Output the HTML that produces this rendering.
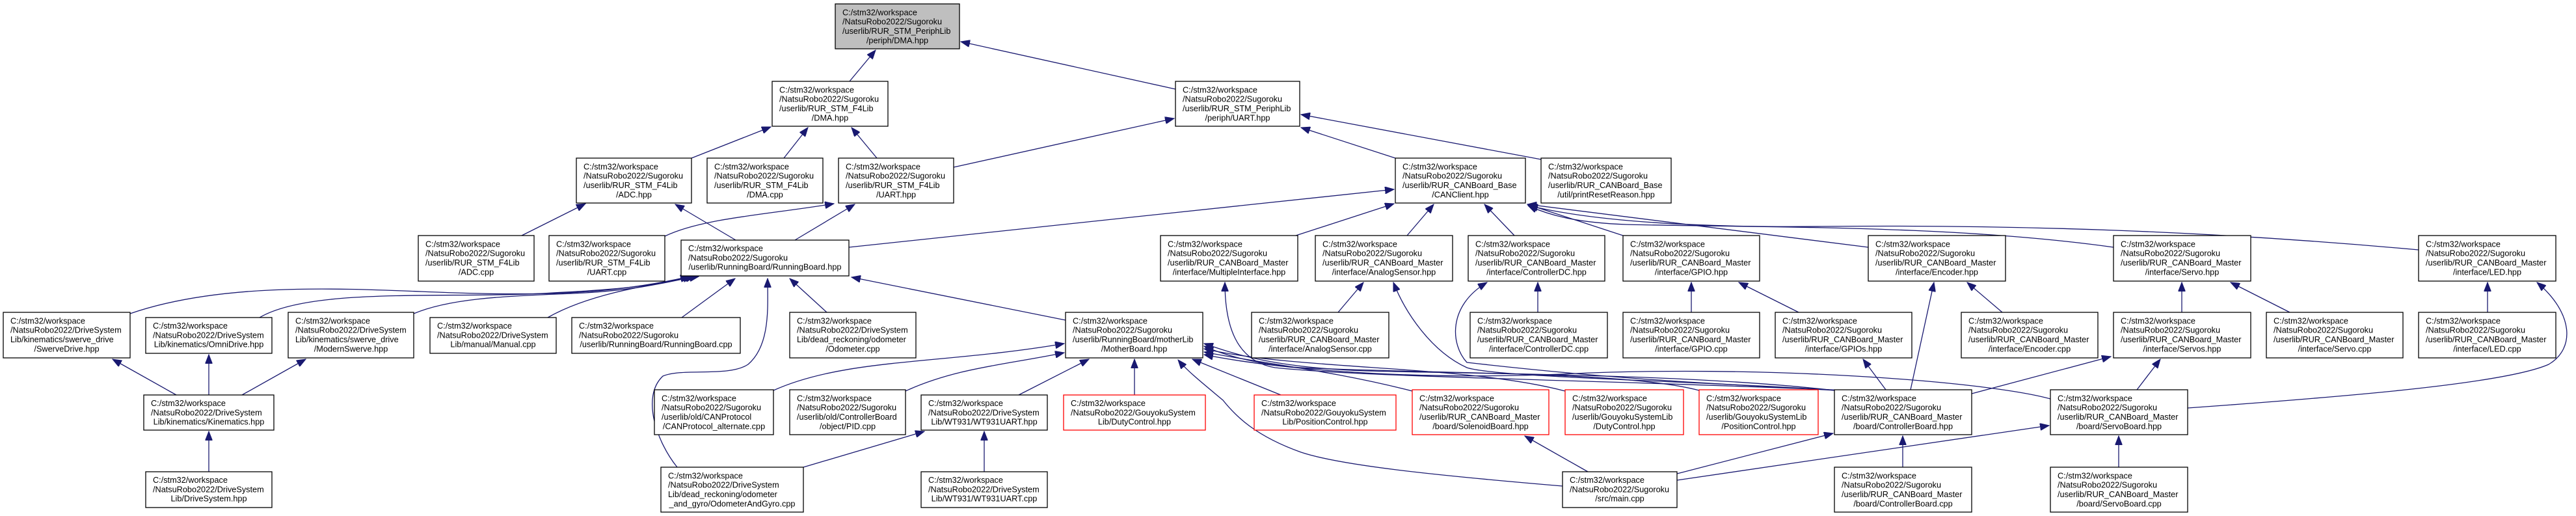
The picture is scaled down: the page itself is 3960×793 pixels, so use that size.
<!DOCTYPE html>
<html><head><meta charset="utf-8"><style>
html,body{margin:0;padding:0;background:#fff;}
svg{display:block;}
text{font-family:"Liberation Sans",Arial,sans-serif;font-size:12.7px;fill:#000;}
.b{fill:#fff;stroke:#000;stroke-width:1.3;}
.r{fill:#fff;stroke:#ff0000;stroke-width:1.3;}
.g{fill:#bfbfbf;stroke:#000;stroke-width:1.3;}
.e{fill:none;stroke:#191970;stroke-width:1.3;marker-end:url(#a);}
</style></head><body>
<svg width="3960" height="793" viewBox="0 0 3960 793" xmlns="http://www.w3.org/2000/svg">
<defs><marker id="a" markerUnits="userSpaceOnUse" markerWidth="15" markerHeight="11" refX="14" refY="5.5" orient="auto"><path d="M0,0 L14,5.5 L0,11 z" fill="#191970" stroke="#191970"/></marker></defs>

<!-- edges -->
<path class="e" d="M1306,125 L1346,77"/>
<path class="e" d="M1807,137 L1477,64"/>
<path class="e" d="M1063,243 L1185,195"/>
<path class="e" d="M1205,243 L1242,196"/>
<path class="e" d="M1348,243 L1309,196"/>
<path class="e" d="M1466,257 L1805,182"/>
<path class="e" d="M802,362 L900,313"/>
<path class="e" d="M1131,369 L1038,314"/>
<path class="e" d="M1022,363 C1080,335 1180,330 1282,313"/>
<path class="e" d="M1222,369 L1314,314"/>
<path class="e" d="M2145,243 L2000,196"/>
<path class="e" d="M2369,245 L2000,176"/>
<path class="e" d="M1305,380 L2143,291"/>
<path class="e" d="M1992,362 L2143,313"/>
<path class="e" d="M2163,362 L2204,314"/>
<path class="e" d="M2328,362 L2282,314"/>
<path class="e" d="M2495,362 L2348,314"/>
<path class="e" d="M2872,380 L2348,314"/>
<path class="e" d="M3249,380 C3000,345 2700,350 2500,345 C2420,342 2380,330 2349,316"/>
<path class="e" d="M3718,384 C3400,355 3100,345 2800,348 C2600,350 2450,340 2350,316"/>
<!-- to RunningBoard.hpp -->
<path class="e" d="M200,482 C350,430 550,445 700,450 C850,455 950,450 1060,425"/>
<path class="e" d="M399,488 C480,440 700,460 850,450 C950,445 1000,440 1064,425"/>
<path class="e" d="M636,482 C700,455 800,455 900,450 C980,445 1020,435 1068,425"/>
<path class="e" d="M842,488 C900,455 980,440 1074,425"/>
<path class="e" d="M1048,488 L1130,428"/>
<path class="e" d="M1271,480 L1214,428"/>
<path class="e" d="M1638,492 L1309,426"/>
<path class="e" d="M1041,718 C1010,680 985,610 1019,578 C1050,565 1120,580 1150,560 C1185,530 1180,470 1180,428"/>
<!-- kinematics -->
<path class="e" d="M271,607 L173,552"/>
<path class="e" d="M321,607 L321,545"/>
<path class="e" d="M372,607 L470,552"/>
<path class="e" d="M321,725 L321,663"/>
<!-- to MotherBoard -->
<path class="e" d="M1189,600 C1300,550 1450,560 1636,528"/>
<path class="e" d="M1392,601 C1470,565 1550,560 1636,542"/>
<path class="e" d="M1566,607 L1674,552"/>
<path class="e" d="M1744,607 L1744,552"/>
<path class="e" d="M1969,607 L1833,552"/>
<path class="e" d="M2171,601 C2050,570 1950,560 1851,541"/>
<path class="e" d="M2406,601 C2250,560 2000,570 1851,536"/>
<path class="e" d="M2612,600 C2500,570 2200,575 2000,565 C1930,560 1880,545 1851,532"/>
<path class="e" d="M2820,600 C2600,575 2300,575 2100,570 C1960,565 1900,545 1851,528"/>
<path class="e" d="M3152,613 C3050,585 2700,560 2400,575 C2150,585 1950,565 1851,545"/>
<path class="e" d="M2402,747 C2200,730 2060,715 2000,695 C1930,670 1900,640 1880,615 C1850,590 1825,570 1811,553"/>
<path class="e" d="M1235,718 L1421,663"/>
<path class="e" d="M1513,725 L1513,663"/>
<!-- ControllerBoard.hpp deps -->
<path class="e" d="M2836,600 C2500,585 2100,580 1960,565 C1900,555 1883,500 1883,434"/>
<path class="e" d="M2826,600 C2600,585 2300,580 2255,565 C2200,540 2160,480 2142,434"/>
<path class="e" d="M2822,600 C2650,590 2500,585 2255,557 C2230,530 2225,470 2286,434"/>
<path class="e" d="M2364,480 L2364,434"/>
<path class="e" d="M2057,480 L2096,434"/>
<path class="e" d="M2600,480 L2600,434"/>
<path class="e" d="M2765,480 L2673,434"/>
<path class="e" d="M2899,599 L2864,552"/>
<path class="e" d="M2937,599 L2973,434"/>
<path class="e" d="M3078,480 L3024,434"/>
<path class="e" d="M3354,480 L3354,434"/>
<path class="e" d="M3520,480 L3429,434"/>
<path class="e" d="M3824,480 L3824,434"/>
<path class="e" d="M3363,627 C3600,610 3850,590 3918,560 C3960,535 3955,480 3900,434"/>
<path class="e" d="M3285,599 L3321,552"/>
<path class="e" d="M3031,605 L3245,548"/>
<path class="e" d="M2925,718 L2925,670"/>
<path class="e" d="M3257,718 L3257,670"/>
<path class="e" d="M2441,725 L2344,670"/>
<path class="e" d="M2578,728 L2818,666"/>
<path class="e" d="M2578,738 L3150,654"/>

<!-- nodes -->
<g>
<rect class="g" x="1284" y="6" width="191" height="69"/>
<text y="23.4"><tspan x="1295">C:/stm32/workspace</tspan><tspan x="1295" dy="14.3">/NatsuRobo2022/Sugoroku</tspan><tspan x="1295" dy="14.3">/userlib/RUR_STM_PeriphLib</tspan><tspan x="1379.5" dy="14.3" text-anchor="middle">/periph/DMA.hpp</tspan></text>

<rect class="b" x="1187" y="125" width="178" height="69"/>
<text y="142.4"><tspan x="1198">C:/stm32/workspace</tspan><tspan x="1198" dy="14.3">/NatsuRobo2022/Sugoroku</tspan><tspan x="1198" dy="14.3">/userlib/RUR_STM_F4Lib</tspan><tspan x="1276" dy="14.3" text-anchor="middle">/DMA.hpp</tspan></text>

<rect class="b" x="1807" y="125" width="191" height="69"/>
<text y="142.4"><tspan x="1818">C:/stm32/workspace</tspan><tspan x="1818" dy="14.3">/NatsuRobo2022/Sugoroku</tspan><tspan x="1818" dy="14.3">/userlib/RUR_STM_PeriphLib</tspan><tspan x="1902.5" dy="14.3" text-anchor="middle">/periph/UART.hpp</tspan></text>

<rect class="b" x="886" y="243" width="177" height="69"/>
<text y="260.4"><tspan x="897">C:/stm32/workspace</tspan><tspan x="897" dy="14.3">/NatsuRobo2022/Sugoroku</tspan><tspan x="897" dy="14.3">/userlib/RUR_STM_F4Lib</tspan><tspan x="974.5" dy="14.3" text-anchor="middle">/ADC.hpp</tspan></text>

<rect class="b" x="1087" y="243" width="178" height="69"/>
<text y="260.4"><tspan x="1098">C:/stm32/workspace</tspan><tspan x="1098" dy="14.3">/NatsuRobo2022/Sugoroku</tspan><tspan x="1098" dy="14.3">/userlib/RUR_STM_F4Lib</tspan><tspan x="1176" dy="14.3" text-anchor="middle">/DMA.cpp</tspan></text>

<rect class="b" x="1289" y="243" width="177" height="69"/>
<text y="260.4"><tspan x="1300">C:/stm32/workspace</tspan><tspan x="1300" dy="14.3">/NatsuRobo2022/Sugoroku</tspan><tspan x="1300" dy="14.3">/userlib/RUR_STM_F4Lib</tspan><tspan x="1377.5" dy="14.3" text-anchor="middle">/UART.hpp</tspan></text>

<rect class="b" x="2145" y="243" width="200" height="69"/>
<text y="260.4"><tspan x="2156">C:/stm32/workspace</tspan><tspan x="2156" dy="14.3">/NatsuRobo2022/Sugoroku</tspan><tspan x="2156" dy="14.3">/userlib/RUR_CANBoard_Base</tspan><tspan x="2245" dy="14.3" text-anchor="middle">/CANClient.hpp</tspan></text>

<rect class="b" x="2369" y="243" width="200" height="69"/>
<text y="260.4"><tspan x="2380">C:/stm32/workspace</tspan><tspan x="2380" dy="14.3">/NatsuRobo2022/Sugoroku</tspan><tspan x="2380" dy="14.3">/userlib/RUR_CANBoard_Base</tspan><tspan x="2469" dy="14.3" text-anchor="middle">/util/printResetReason.hpp</tspan></text>

<rect class="b" x="643" y="362" width="178" height="70"/>
<text y="379.4"><tspan x="654">C:/stm32/workspace</tspan><tspan x="654" dy="14.3">/NatsuRobo2022/Sugoroku</tspan><tspan x="654" dy="14.3">/userlib/RUR_STM_F4Lib</tspan><tspan x="732" dy="14.3" text-anchor="middle">/ADC.cpp</tspan></text>

<rect class="b" x="844" y="362" width="178" height="70"/>
<text y="379.4"><tspan x="855">C:/stm32/workspace</tspan><tspan x="855" dy="14.3">/NatsuRobo2022/Sugoroku</tspan><tspan x="855" dy="14.3">/userlib/RUR_STM_F4Lib</tspan><tspan x="933" dy="14.3" text-anchor="middle">/UART.cpp</tspan></text>

<rect class="b" x="1047" y="369" width="258" height="55"/>
<text y="386"><tspan x="1058">C:/stm32/workspace</tspan><tspan x="1058" dy="14.3">/NatsuRobo2022/Sugoroku</tspan><tspan x="1176" dy="14.3" text-anchor="middle">/userlib/RunningBoard/RunningBoard.hpp</tspan></text>

<rect class="b" x="1784" y="362" width="211" height="70"/>
<text y="379.4"><tspan x="1795">C:/stm32/workspace</tspan><tspan x="1795" dy="14.3">/NatsuRobo2022/Sugoroku</tspan><tspan x="1795" dy="14.3">/userlib/RUR_CANBoard_Master</tspan><tspan x="1889.5" dy="14.3" text-anchor="middle">/interface/MultipleInterface.hpp</tspan></text>

<rect class="b" x="2022" y="362" width="211" height="70"/>
<text y="379.4"><tspan x="2033">C:/stm32/workspace</tspan><tspan x="2033" dy="14.3">/NatsuRobo2022/Sugoroku</tspan><tspan x="2033" dy="14.3">/userlib/RUR_CANBoard_Master</tspan><tspan x="2127.5" dy="14.3" text-anchor="middle">/interface/AnalogSensor.hpp</tspan></text>

<rect class="b" x="2257" y="362" width="210" height="70"/>
<text y="379.4"><tspan x="2268">C:/stm32/workspace</tspan><tspan x="2268" dy="14.3">/NatsuRobo2022/Sugoroku</tspan><tspan x="2268" dy="14.3">/userlib/RUR_CANBoard_Master</tspan><tspan x="2362" dy="14.3" text-anchor="middle">/interface/ControllerDC.hpp</tspan></text>

<rect class="b" x="2495" y="362" width="210" height="70"/>
<text y="379.4"><tspan x="2506">C:/stm32/workspace</tspan><tspan x="2506" dy="14.3">/NatsuRobo2022/Sugoroku</tspan><tspan x="2506" dy="14.3">/userlib/RUR_CANBoard_Master</tspan><tspan x="2600" dy="14.3" text-anchor="middle">/interface/GPIO.hpp</tspan></text>

<rect class="b" x="2872" y="362" width="211" height="70"/>
<text y="379.4"><tspan x="2883">C:/stm32/workspace</tspan><tspan x="2883" dy="14.3">/NatsuRobo2022/Sugoroku</tspan><tspan x="2883" dy="14.3">/userlib/RUR_CANBoard_Master</tspan><tspan x="2977.5" dy="14.3" text-anchor="middle">/interface/Encoder.hpp</tspan></text>

<rect class="b" x="3249" y="362" width="211" height="70"/>
<text y="379.4"><tspan x="3260">C:/stm32/workspace</tspan><tspan x="3260" dy="14.3">/NatsuRobo2022/Sugoroku</tspan><tspan x="3260" dy="14.3">/userlib/RUR_CANBoard_Master</tspan><tspan x="3354.5" dy="14.3" text-anchor="middle">/interface/Servo.hpp</tspan></text>

<rect class="b" x="3718" y="362" width="211" height="70"/>
<text y="379.4"><tspan x="3729">C:/stm32/workspace</tspan><tspan x="3729" dy="14.3">/NatsuRobo2022/Sugoroku</tspan><tspan x="3729" dy="14.3">/userlib/RUR_CANBoard_Master</tspan><tspan x="3823.5" dy="14.3" text-anchor="middle">/interface/LED.hpp</tspan></text>

<!-- row 4 -->
<rect class="b" x="5" y="480" width="195" height="70"/>
<text y="497.4"><tspan x="16">C:/stm32/workspace</tspan><tspan x="16" dy="14.3">/NatsuRobo2022/DriveSystem</tspan><tspan x="16" dy="14.3">Lib/kinematics/swerve_drive</tspan><tspan x="102.5" dy="14.3" text-anchor="middle">/SwerveDrive.hpp</tspan></text>

<rect class="b" x="224" y="488" width="194" height="55"/>
<text y="505"><tspan x="235">C:/stm32/workspace</tspan><tspan x="235" dy="14.3">/NatsuRobo2022/DriveSystem</tspan><tspan x="321" dy="14.3" text-anchor="middle">Lib/kinematics/OmniDrive.hpp</tspan></text>

<rect class="b" x="443" y="480" width="193" height="70"/>
<text y="497.4"><tspan x="454">C:/stm32/workspace</tspan><tspan x="454" dy="14.3">/NatsuRobo2022/DriveSystem</tspan><tspan x="454" dy="14.3">Lib/kinematics/swerve_drive</tspan><tspan x="539.5" dy="14.3" text-anchor="middle">/ModernSwerve.hpp</tspan></text>

<rect class="b" x="661" y="488" width="194" height="55"/>
<text y="505"><tspan x="672">C:/stm32/workspace</tspan><tspan x="672" dy="14.3">/NatsuRobo2022/DriveSystem</tspan><tspan x="758" dy="14.3" text-anchor="middle">Lib/manual/Manual.cpp</tspan></text>

<rect class="b" x="879" y="488" width="259" height="55"/>
<text y="505"><tspan x="890">C:/stm32/workspace</tspan><tspan x="890" dy="14.3">/NatsuRobo2022/Sugoroku</tspan><tspan x="1008.5" dy="14.3" text-anchor="middle">/userlib/RunningBoard/RunningBoard.cpp</tspan></text>

<rect class="b" x="1214" y="480" width="194" height="70"/>
<text y="497.4"><tspan x="1225">C:/stm32/workspace</tspan><tspan x="1225" dy="14.3">/NatsuRobo2022/DriveSystem</tspan><tspan x="1225" dy="14.3">Lib/dead_reckoning/odometer</tspan><tspan x="1311" dy="14.3" text-anchor="middle">/Odometer.cpp</tspan></text>

<rect class="b" x="1638" y="480" width="211" height="70"/>
<text y="497.4"><tspan x="1649">C:/stm32/workspace</tspan><tspan x="1649" dy="14.3">/NatsuRobo2022/Sugoroku</tspan><tspan x="1649" dy="14.3">/userlib/RunningBoard/motherLib</tspan><tspan x="1743.5" dy="14.3" text-anchor="middle">/MotherBoard.hpp</tspan></text>

<rect class="b" x="1924" y="480" width="211" height="70"/>
<text y="497.4"><tspan x="1935">C:/stm32/workspace</tspan><tspan x="1935" dy="14.3">/NatsuRobo2022/Sugoroku</tspan><tspan x="1935" dy="14.3">/userlib/RUR_CANBoard_Master</tspan><tspan x="2029.5" dy="14.3" text-anchor="middle">/interface/AnalogSensor.cpp</tspan></text>

<rect class="b" x="2260" y="480" width="211" height="70"/>
<text y="497.4"><tspan x="2271">C:/stm32/workspace</tspan><tspan x="2271" dy="14.3">/NatsuRobo2022/Sugoroku</tspan><tspan x="2271" dy="14.3">/userlib/RUR_CANBoard_Master</tspan><tspan x="2365.5" dy="14.3" text-anchor="middle">/interface/ControllerDC.cpp</tspan></text>

<rect class="b" x="2495" y="480" width="210" height="70"/>
<text y="497.4"><tspan x="2506">C:/stm32/workspace</tspan><tspan x="2506" dy="14.3">/NatsuRobo2022/Sugoroku</tspan><tspan x="2506" dy="14.3">/userlib/RUR_CANBoard_Master</tspan><tspan x="2600" dy="14.3" text-anchor="middle">/interface/GPIO.cpp</tspan></text>

<rect class="b" x="2729" y="480" width="210" height="70"/>
<text y="497.4"><tspan x="2740">C:/stm32/workspace</tspan><tspan x="2740" dy="14.3">/NatsuRobo2022/Sugoroku</tspan><tspan x="2740" dy="14.3">/userlib/RUR_CANBoard_Master</tspan><tspan x="2834" dy="14.3" text-anchor="middle">/interface/GPIOs.hpp</tspan></text>

<rect class="b" x="3015" y="480" width="210" height="70"/>
<text y="497.4"><tspan x="3026">C:/stm32/workspace</tspan><tspan x="3026" dy="14.3">/NatsuRobo2022/Sugoroku</tspan><tspan x="3026" dy="14.3">/userlib/RUR_CANBoard_Master</tspan><tspan x="3120" dy="14.3" text-anchor="middle">/interface/Encoder.cpp</tspan></text>

<rect class="b" x="3249" y="480" width="211" height="70"/>
<text y="497.4"><tspan x="3260">C:/stm32/workspace</tspan><tspan x="3260" dy="14.3">/NatsuRobo2022/Sugoroku</tspan><tspan x="3260" dy="14.3">/userlib/RUR_CANBoard_Master</tspan><tspan x="3354.5" dy="14.3" text-anchor="middle">/interface/Servos.hpp</tspan></text>

<rect class="b" x="3484" y="480" width="210" height="70"/>
<text y="497.4"><tspan x="3495">C:/stm32/workspace</tspan><tspan x="3495" dy="14.3">/NatsuRobo2022/Sugoroku</tspan><tspan x="3495" dy="14.3">/userlib/RUR_CANBoard_Master</tspan><tspan x="3589" dy="14.3" text-anchor="middle">/interface/Servo.cpp</tspan></text>

<rect class="b" x="3718" y="480" width="211" height="70"/>
<text y="497.4"><tspan x="3729">C:/stm32/workspace</tspan><tspan x="3729" dy="14.3">/NatsuRobo2022/Sugoroku</tspan><tspan x="3729" dy="14.3">/userlib/RUR_CANBoard_Master</tspan><tspan x="3823.5" dy="14.3" text-anchor="middle">/interface/LED.cpp</tspan></text>

<!-- row 5 -->
<rect class="b" x="221" y="607" width="200" height="54"/>
<text y="624"><tspan x="232">C:/stm32/workspace</tspan><tspan x="232" dy="14.3">/NatsuRobo2022/DriveSystem</tspan><tspan x="321" dy="14.3" text-anchor="middle">Lib/kinematics/Kinematics.hpp</tspan></text>

<rect class="b" x="1006" y="599" width="183" height="69"/>
<text y="616.4"><tspan x="1017">C:/stm32/workspace</tspan><tspan x="1017" dy="14.3">/NatsuRobo2022/Sugoroku</tspan><tspan x="1017" dy="14.3">/userlib/old/CANProtocol</tspan><tspan x="1097.5" dy="14.3" text-anchor="middle">/CANProtocol_alternate.cpp</tspan></text>

<rect class="b" x="1214" y="599" width="178" height="69"/>
<text y="616.4"><tspan x="1225">C:/stm32/workspace</tspan><tspan x="1225" dy="14.3">/NatsuRobo2022/Sugoroku</tspan><tspan x="1225" dy="14.3">/userlib/old/ControllerBoard</tspan><tspan x="1303" dy="14.3" text-anchor="middle">/object/PID.cpp</tspan></text>

<rect class="b" x="1416" y="607" width="194" height="54"/>
<text y="624"><tspan x="1427">C:/stm32/workspace</tspan><tspan x="1427" dy="14.3">/NatsuRobo2022/DriveSystem</tspan><tspan x="1513" dy="14.3" text-anchor="middle">Lib/WT931/WT931UART.hpp</tspan></text>

<rect class="r" x="1635" y="607" width="218" height="54"/>
<text y="624"><tspan x="1646">C:/stm32/workspace</tspan><tspan x="1646" dy="14.3">/NatsuRobo2022/GouyokuSystem</tspan><tspan x="1744" dy="14.3" text-anchor="middle">Lib/DutyControl.hpp</tspan></text>

<rect class="r" x="1928" y="607" width="218" height="54"/>
<text y="624"><tspan x="1939">C:/stm32/workspace</tspan><tspan x="1939" dy="14.3">/NatsuRobo2022/GouyokuSystem</tspan><tspan x="2037" dy="14.3" text-anchor="middle">Lib/PositionControl.hpp</tspan></text>

<rect class="r" x="2171" y="599" width="210" height="69"/>
<text y="616.4"><tspan x="2182">C:/stm32/workspace</tspan><tspan x="2182" dy="14.3">/NatsuRobo2022/Sugoroku</tspan><tspan x="2182" dy="14.3">/userlib/RUR_CANBoard_Master</tspan><tspan x="2276" dy="14.3" text-anchor="middle">/board/SolenoidBoard.hpp</tspan></text>

<rect class="r" x="2406" y="599" width="182" height="69"/>
<text y="616.4"><tspan x="2417">C:/stm32/workspace</tspan><tspan x="2417" dy="14.3">/NatsuRobo2022/Sugoroku</tspan><tspan x="2417" dy="14.3">/userlib/GouyokuSystemLib</tspan><tspan x="2497" dy="14.3" text-anchor="middle">/DutyControl.hpp</tspan></text>

<rect class="r" x="2612" y="599" width="183" height="69"/>
<text y="616.4"><tspan x="2623">C:/stm32/workspace</tspan><tspan x="2623" dy="14.3">/NatsuRobo2022/Sugoroku</tspan><tspan x="2623" dy="14.3">/userlib/GouyokuSystemLib</tspan><tspan x="2703.5" dy="14.3" text-anchor="middle">/PositionControl.hpp</tspan></text>

<rect class="b" x="2820" y="599" width="211" height="69"/>
<text y="616.4"><tspan x="2831">C:/stm32/workspace</tspan><tspan x="2831" dy="14.3">/NatsuRobo2022/Sugoroku</tspan><tspan x="2831" dy="14.3">/userlib/RUR_CANBoard_Master</tspan><tspan x="2925.5" dy="14.3" text-anchor="middle">/board/ControllerBoard.hpp</tspan></text>

<rect class="b" x="3152" y="599" width="211" height="69"/>
<text y="616.4"><tspan x="3163">C:/stm32/workspace</tspan><tspan x="3163" dy="14.3">/NatsuRobo2022/Sugoroku</tspan><tspan x="3163" dy="14.3">/userlib/RUR_CANBoard_Master</tspan><tspan x="3257.5" dy="14.3" text-anchor="middle">/board/ServoBoard.hpp</tspan></text>

<!-- row 6 -->
<rect class="b" x="224" y="725" width="194" height="55"/>
<text y="742"><tspan x="235">C:/stm32/workspace</tspan><tspan x="235" dy="14.3">/NatsuRobo2022/DriveSystem</tspan><tspan x="321" dy="14.3" text-anchor="middle">Lib/DriveSystem.hpp</tspan></text>

<rect class="b" x="1016" y="718" width="219" height="69"/>
<text y="735.4"><tspan x="1027">C:/stm32/workspace</tspan><tspan x="1027" dy="14.3">/NatsuRobo2022/DriveSystem</tspan><tspan x="1027" dy="14.3">Lib/dead_reckoning/odometer</tspan><tspan x="1125.5" dy="14.3" text-anchor="middle">_and_gyro/OdometerAndGyro.cpp</tspan></text>

<rect class="b" x="1416" y="725" width="194" height="55"/>
<text y="742"><tspan x="1427">C:/stm32/workspace</tspan><tspan x="1427" dy="14.3">/NatsuRobo2022/DriveSystem</tspan><tspan x="1513" dy="14.3" text-anchor="middle">Lib/WT931/WT931UART.cpp</tspan></text>

<rect class="b" x="2402" y="725" width="176" height="55"/>
<text y="742"><tspan x="2413">C:/stm32/workspace</tspan><tspan x="2413" dy="14.3">/NatsuRobo2022/Sugoroku</tspan><tspan x="2490" dy="14.3" text-anchor="middle">/src/main.cpp</tspan></text>

<rect class="b" x="2820" y="718" width="211" height="69"/>
<text y="735.4"><tspan x="2831">C:/stm32/workspace</tspan><tspan x="2831" dy="14.3">/NatsuRobo2022/Sugoroku</tspan><tspan x="2831" dy="14.3">/userlib/RUR_CANBoard_Master</tspan><tspan x="2925.5" dy="14.3" text-anchor="middle">/board/ControllerBoard.cpp</tspan></text>

<rect class="b" x="3152" y="718" width="211" height="69"/>
<text y="735.4"><tspan x="3163">C:/stm32/workspace</tspan><tspan x="3163" dy="14.3">/NatsuRobo2022/Sugoroku</tspan><tspan x="3163" dy="14.3">/userlib/RUR_CANBoard_Master</tspan><tspan x="3257.5" dy="14.3" text-anchor="middle">/board/ServoBoard.cpp</tspan></text>
</g>
</svg>
</body></html>
